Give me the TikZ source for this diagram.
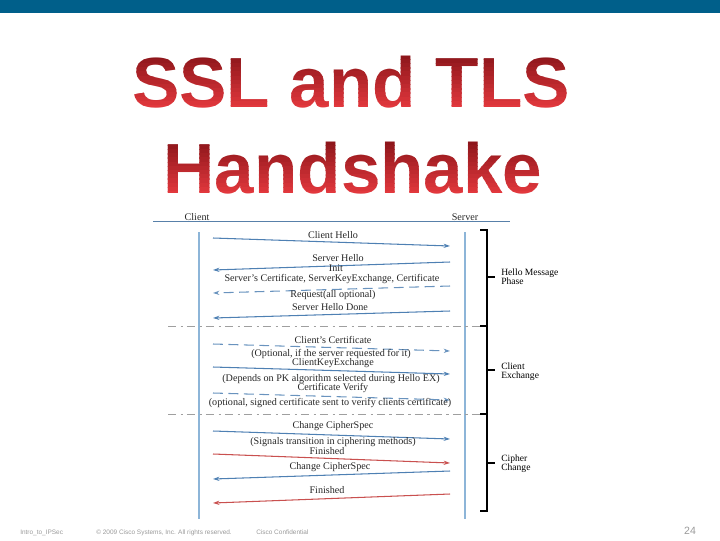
\documentclass[tikz,border=0pt]{standalone}
\usepackage{fontspec}
\setmainfont{Liberation Serif}
\newfontfamily\headfont{Liberation Sans}
\usetikzlibrary{arrows.meta}

\definecolor{barblue}{HTML}{005F8A}
\definecolor{titletop}{HTML}{8E161B}
\definecolor{titlebot}{HTML}{E2383D}
\definecolor{msgblue}{HTML}{4E80B3}
\definecolor{msgred}{HTML}{C9504F}
\definecolor{lifeblue}{HTML}{8DB5D8}
\definecolor{footgray}{HTML}{9A9A9A}

\tikzset{
    titletext/.style={font=\headfont\bfseries\fontsize{50.5}{52}\selectfont,inner sep=0pt},
    msg/.style={line width=0.75pt,-{Stealth[length=4.5pt,width=3pt]}},
    optmsg/.style={msg,dash pattern=on 7pt off 4pt},
    lbl/.style={font=\fontsize{7.2}{7.5}\selectfont,inner sep=0.5pt,text=black!85},
    phase/.style={font=\fontsize{6.8}{6.4}\selectfont,align=left,anchor=west,inner sep=0pt},
    sep/.style={gray!75,line width=0.6pt,dash pattern=on 6pt off 3pt on 1.5pt off 3pt},
    bracket/.style={black,line width=1.1pt},
    foot/.style={font=\headfont\fontsize{4.6}{5}\selectfont,text=footgray,anchor=base west,inner sep=0pt}
}

\begin{document}
\begin{tikzpicture}[x=0.025cm,y=-0.025cm]

        \useasboundingbox (0,0) rectangle (720,540);

        % Top bar
        \fill[barblue] (0,0) rectangle (720,13);

        % Title, set in thin clipped strips to get the dark-to-bright red gradient
        \foreach \i in {0,...,12} {
            \pgfmathsetmacro\p{\i*100/12}
            \begin{scope}
                \clip (100,{55+\i*4.2}) rectangle (600,{55+\i*4.2+4.7});
                \node[titletext,text=titlebot!\p!titletop] (title1-\i) at (351,82) {SSL and TLS};
            \end{scope}
            \begin{scope}
                \clip (100,{141+\i*4.2}) rectangle (600,{141+\i*4.2+4.7});
                \node[titletext,text=titlebot!\p!titletop] (title2-\i) at (353,168) {Handshake};
            \end{scope}
        }

        % Header line with the two parties
        \draw[msgblue!80!gray,line width=0.6pt] (153,221) -- (510,221);
        \node[lbl] (client) at (197,217) {Client};
        \node[lbl] (server) at (465,217) {Server};

        % Lifelines
        \coordinate (cl-top) at (199,232);
        \coordinate (cl-bot) at (199,519);
        \coordinate (sv-top) at (465,232);
        \coordinate (sv-bot) at (465,519);
        \draw[lifeblue,line width=1pt] (cl-top) -- (cl-bot);
        \draw[lifeblue,line width=1pt] (sv-top) -- (sv-bot);

        % Phase separators
        \draw[sep] (168,326) -- (483,326);
        \draw[sep] (168,414) -- (483,414);

        % Hello message phase
        \coordinate (m1c) at (213,238);
        \coordinate (m1s) at (450,246);
        \draw[msg,msgblue] (m1c) -- (m1s);
        \node[lbl] (m1t) at (333,235) {Client Hello};

        \coordinate (m2s) at (450,262);
        \coordinate (m2c) at (213,270);
        \draw[msg,msgblue] (m2s) -- (m2c);
        \node[lbl] (m2t) at (338,258) {Server Hello};
        \node[lbl] (m2u) at (336,268) {Init};

        \coordinate (m3s) at (450,286);
        \coordinate (m3c) at (213,293);
        \draw[optmsg,msgblue!85] (m3s) -- (m3c);
        \node[lbl] (m3t) at (332,279) {Server's Certificate, ServerKeyExchange, Certificate};
        \node[lbl] (m3u) at (333,295) {Request(all optional)};

        \coordinate (m4s) at (450,311);
        \coordinate (m4c) at (213,318);
        \draw[msg,msgblue] (m4s) -- (m4c);
        \node[lbl] (m4t) at (330,307) {Server Hello Done};

        % Client exchange
        \coordinate (m5c) at (213,344);
        \coordinate (m5s) at (450,351);
        \draw[optmsg,msgblue!85] (m5c) -- (m5s);
        \node[lbl] (m5t) at (333,340) {Client's Certificate};
        \node[lbl] (m5u) at (331,354) {(Optional, if the server requested for it)};

        \coordinate (m6c) at (213,367);
        \coordinate (m6s) at (450,374);
        \draw[msg,msgblue] (m6c) -- (m6s);
        \node[lbl] (m6t) at (333,363) {ClientKeyExchange};
        \node[lbl] (m6u) at (331,379) {(Depends on PK algorithm selected during Hello EX)};

        \coordinate (m7c) at (213,393);
        \coordinate (m7s) at (450,400);
        \draw[optmsg,msgblue!85] (m7c) -- (m7s);
        \node[lbl] (m7t) at (333,388) {Certificate Verify};
        \node[lbl] (m7u) at (330,403) {(optional, signed certificate sent to verify clients certificate)};

        % Cipher change
        \coordinate (m8c) at (213,431);
        \coordinate (m8s) at (450,439);
        \draw[msg,msgblue] (m8c) -- (m8s);
        \node[lbl] (m8t) at (333,426) {Change CipherSpec};
        \node[lbl] (m8u) at (333,442) {(Signals transition in ciphering methods)};

        \coordinate (m9c) at (213,454);
        \coordinate (m9s) at (450,463);
        \draw[msg,msgred] (m9c) -- (m9s);
        \node[lbl] (m9t) at (327,451) {Finished};

        \coordinate (m10s) at (450,471);
        \coordinate (m10c) at (213,479);
        \draw[msg,msgblue] (m10s) -- (m10c);
        \node[lbl] (m10t) at (330,467) {Change CipherSpec};

        \coordinate (m11s) at (450,494);
        \coordinate (m11c) at (213,503);
        \draw[msg,msgred] (m11s) -- (m11c);
        \node[lbl] (m11t) at (327,490) {Finished};

        % Phase brackets
        \draw[bracket] (480,230) -- (487,230) -- (487,326) -- (480,326);
        \draw[bracket] (487,277) -- (495,277);
        \draw[bracket] (487,326) -- (487,414) -- (480,414);
        \draw[bracket] (487,370) -- (495,370);
        \draw[bracket] (487,414) -- (487,511) -- (480,511);
        \draw[bracket] (487,463) -- (495,463);

        \node[phase] (hello) at (501,277) {Hello Message\\Phase};
        \node[phase] (cexch) at (501,372) {Client\\Exchange};
        \node[phase] (cchg) at (501,464) {Cipher\\Change};

        % Footer
        \node[foot] (ft1) at (20,534) {Intro\_to\_IPSec};
        \node[foot] (ft2) at (96,534) {\textcopyright{} 2009 Cisco Systems, Inc. All rights reserved.};
        \node[foot] (ft3) at (256,534) {Cisco Confidential};
        \node[font=\headfont\fontsize{7.5}{8}\selectfont,text=footgray,inner sep=0pt,anchor=base] (page) at (690,534) {24};

    \end{tikzpicture}
\end{document}
